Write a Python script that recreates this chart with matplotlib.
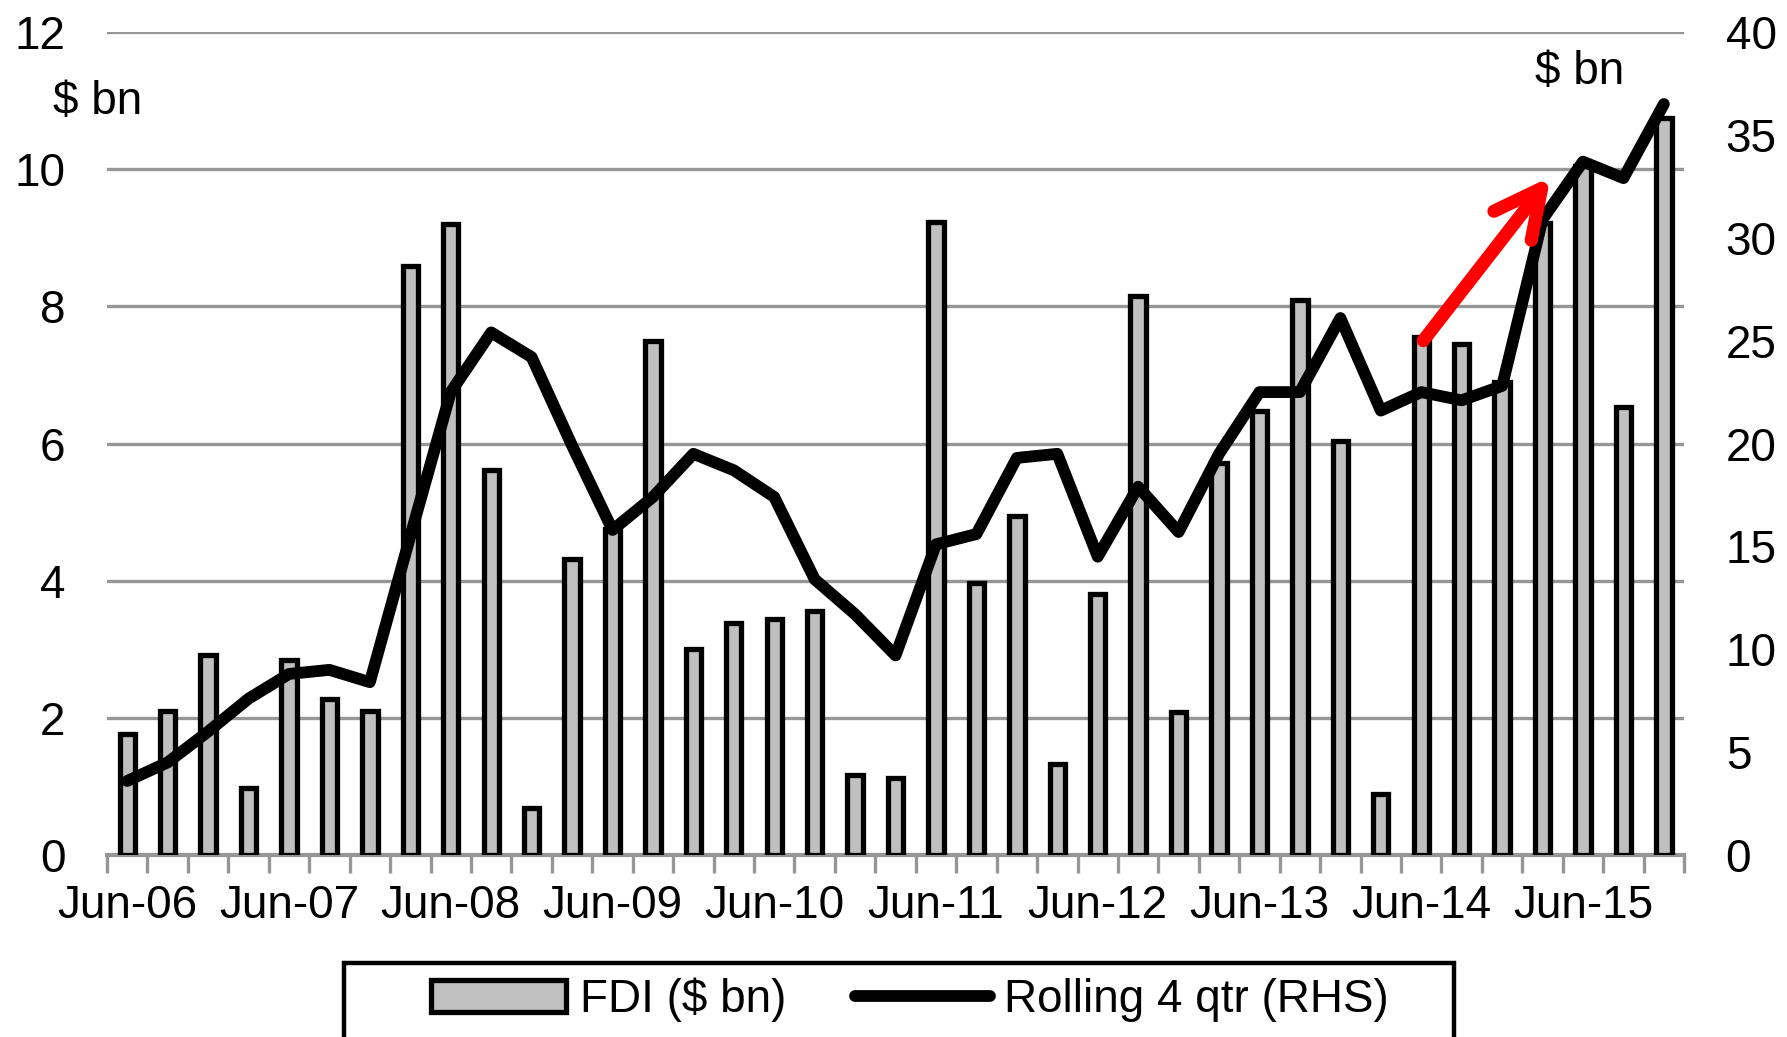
import matplotlib.pyplot as plt
import matplotlib.patches as mpatches
import numpy as np

plt.rcParams['font.family'] = ['Liberation Sans', 'DejaVu Sans']

# quarterly data, Jun-06 .. Dec-15
quarters = ['Jun-06', 'Sep-06', 'Dec-06', 'Mar-07',
            'Jun-07', 'Sep-07', 'Dec-07', 'Mar-08',
            'Jun-08', 'Sep-08', 'Dec-08', 'Mar-09',
            'Jun-09', 'Sep-09', 'Dec-09', 'Mar-10',
            'Jun-10', 'Sep-10', 'Dec-10', 'Mar-11',
            'Jun-11', 'Sep-11', 'Dec-11', 'Mar-12',
            'Jun-12', 'Sep-12', 'Dec-12', 'Mar-13',
            'Jun-13', 'Sep-13', 'Dec-13', 'Mar-14',
            'Jun-14', 'Sep-14', 'Dec-14', 'Mar-15',
            'Jun-15', 'Sep-15', 'Dec-15']
fdi = [1.76, 2.10, 2.91, 0.97, 2.85, 2.27, 2.10, 8.59, 9.20, 5.62,
       0.69, 4.32, 4.75, 7.50, 3.01, 3.39, 3.44, 3.56, 1.17, 1.12,
       9.23, 3.97, 4.95, 1.32, 3.81, 8.15, 2.08, 5.71, 6.47, 8.09,
       6.03, 0.89, 7.55, 7.45, 6.90, 9.22, 10.05, 6.53, 10.75]
rolling = [3.6, 4.5, 6.0, 7.6, 8.8, 9.0, 8.4, 15.5, 22.5, 25.4,
           24.2, 19.9, 15.8, 17.4, 19.5, 18.7, 17.4, 13.4, 11.7, 9.7,
           15.1, 15.6, 19.3, 19.5, 14.5, 17.9, 15.7, 19.5, 22.5, 22.5,
           26.1, 21.6, 22.5, 22.1, 22.8, 30.9, 33.7, 32.9, 36.5]
tick_labels = quarters[::4]

x = np.arange(len(quarters))
grey = '#969696'
fs = 33

fig = plt.figure(figsize=(17.87, 10.37), dpi=100)
ax = fig.add_axes([0.0599, 0.1755, 0.8825, 0.7936])
ax2 = ax.twinx()

ax.bar(x, fdi, width=0.38, color='#C0C0C0', edgecolor='black', linewidth=3.8,
       label='FDI ($ bn)', zorder=3)
ax2.plot(x, rolling, color='black', lw=8.5, solid_joinstyle='round',
         solid_capstyle='round', label='Rolling 4 qtr (RHS)', zorder=4)

# red arrow (left axis 7.5 -> 9.9, drawn in RHS units)
ax2.annotate('', xy=(35.2, 9.89 * 40 / 12), xytext=(32.05, 7.5 * 40 / 12),
             arrowprops=dict(arrowstyle='->,head_length=1.7,head_width=0.85',
                             mutation_scale=20, lw=9.5, color='red',
                             shrinkA=0, shrinkB=0, capstyle='round',
                             joinstyle='round'),
             zorder=6)

ax.set_xlim(-0.5, len(quarters) - 0.5)
ax.set_ylim(0, 12)
ax2.set_ylim(0, 40)
ax.set_yticks(np.arange(0, 13, 2))
ax2.set_yticks(np.arange(0, 41, 5))
ax.set_xticks(x[::4])
ax.set_xticklabels(tick_labels)
ax.set_xticks(np.arange(-0.5, len(quarters)), minor=True)

ax.yaxis.grid(True, color=grey, lw=2.4, zorder=0)
ax.set_axisbelow(True)
for a in (ax, ax2):
    for s in ('top', 'left', 'right', 'bottom'):
        a.spines[s].set_visible(False)
ax.spines['bottom'].set_visible(True)
ax.spines['bottom'].set_color(grey)
ax.spines['bottom'].set_linewidth(3)

ax.tick_params(axis='x', which='major', length=0, pad=21, labelsize=fs)
ax.tick_params(axis='x', which='minor', length=13, width=2.4, color=grey)
ax.tick_params(axis='y', length=0, pad=30, labelsize=fs)
ax2.tick_params(axis='y', length=0, pad=30, labelsize=fs)

fig.text(0.0548, 1 - 102 / 1037, '$ bn', fontsize=fs, ha='center', va='center')
fig.text(0.884, 1 - 72 / 1037, '$ bn', fontsize=fs, ha='center', va='center')

h1, l1 = ax.get_legend_handles_labels()
h2, l2 = ax2.get_legend_handles_labels()
fig.legend(h1 + h2, l1 + l2, loc='center', ncol=2, frameon=False,
           bbox_to_anchor=(0.509, 1 - 1000 / 1037), fontsize=fs,
           handlelength=2.95, handletextpad=0.3, columnspacing=1.5)
fig.patches.append(mpatches.Rectangle((0.1925, -0.05), 0.6211, 0.1214,
                                      transform=fig.transFigure, fill=False,
                                      edgecolor='black', lw=3.2))

fig.savefig('out.png', dpi=100)
